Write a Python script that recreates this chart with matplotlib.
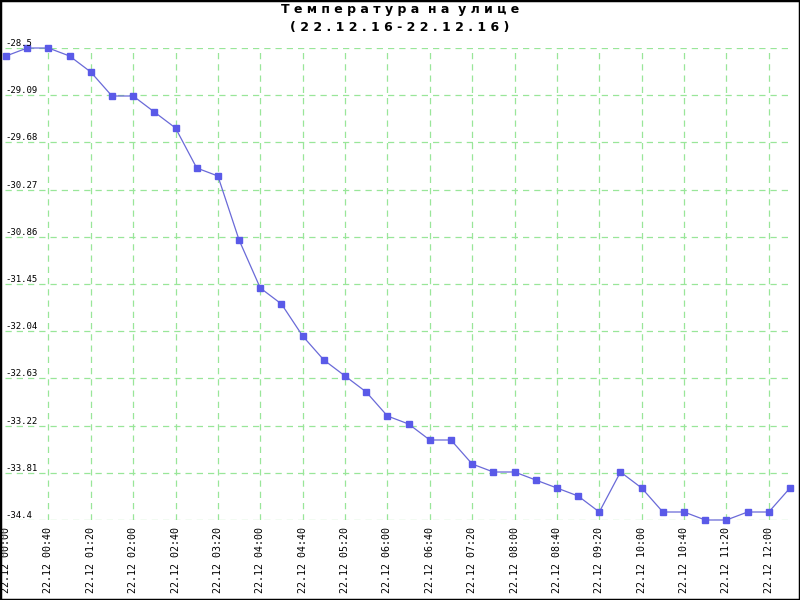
import matplotlib
matplotlib.use("Agg")
import matplotlib.pyplot as plt
from matplotlib.patches import Rectangle

# readings, every 20 minutes on 22.12
times = ["00:00", "00:20", "00:40", "01:00", "01:20", "01:40", "02:00", "02:20",
         "02:40", "03:00", "03:20", "03:40", "04:00", "04:20", "04:40", "05:00",
         "05:20", "05:40", "06:00", "06:20", "06:40", "07:00", "07:20", "07:40",
         "08:00", "08:20", "08:40", "09:00", "09:20", "09:40", "10:00", "10:20",
         "10:40", "11:00", "11:20", "11:40", "12:00", "12:20"]
temps = [-28.6, -28.5, -28.5, -28.6, -28.8, -29.1, -29.1, -29.3,
         -29.5, -30.0, -30.1, -30.9, -31.5, -31.7, -32.1, -32.4,
         -32.6, -32.8, -33.1, -33.2, -33.4, -33.4, -33.7, -33.8,
         -33.8, -33.9, -34.0, -34.1, -34.3, -33.8, -34.0, -34.3,
         -34.3, -34.4, -34.4, -34.3, -34.3, -34.0]
y_ticks = [-28.5, -29.09, -29.68, -30.27, -30.86, -31.45, -32.04,
           -32.63, -33.22, -33.81, -34.4]
day = "22.12"
title = "Т е м п е р а т у р а  н а  у л и ц е"
subtitle = "( 2 2 . 1 2 . 1 6 - 2 2 . 1 2 . 1 6 )"

W, H = 800, 600
fig = plt.figure(figsize=(8, 6), dpi=100)
fig.patch.set_facecolor("white")

# plot area in pixels: x 5..792, y 48..520
ax = fig.add_axes([5 / W, 1 - 520 / H, 787 / W, 472 / H])
for s in ax.spines.values():
    s.set_visible(False)

x = list(range(len(temps)))
scale = 784 / (len(temps) - 1)
ax.set_xlim(-1 / scale, len(temps) - 1 + 2 / scale)
ax.set_ylim(min(y_ticks), max(y_ticks))

grid_x = x[2::2]
for gx in grid_x:
    ax.axvline(gx, color="#99e699", lw=0.9, ls=(0, (5, 4)), zorder=1)
for gy in y_ticks:
    ax.axhline(gy, color="#99e699", lw=0.9, ls=(0, (5, 4)), zorder=1)

ax.plot(x, temps, color="#6a6ad8", lw=0.9, marker="s", markersize=5,
        markerfacecolor="#5a5ae8", markeredgecolor="#5a5ae8", zorder=3,
        clip_on=False)

ax.set_xticks([])
ax.set_yticks([])

for v in y_ticks:
    lbl = f"{v:g}"
    ax.annotate(lbl, (0, v), xycoords=("axes fraction", "data"),
                xytext=(0.5, 0), textcoords="offset points",
                ha="left", va="bottom", fontsize=6.5,
                family="DejaVu Sans Mono", color="black")

for i in x[::2]:
    ax.annotate(f"{day} {times[i]}", (i, 0), xycoords=("data", "axes fraction"),
                xytext=(0, -5), textcoords="offset points",
                ha="center", va="top", rotation=90, fontsize=7.2,
                family="DejaVu Sans Mono", color="black")

fig.text(0.5, 1 - 10 / H, title, ha="center", va="center", fontsize=9,
         fontweight="bold", family="DejaVu Sans")
fig.text(0.5, 1 - 27 / H, subtitle, ha="center", va="center", fontsize=9,
         fontweight="bold", family="DejaVu Sans")

fig.patches.append(Rectangle((0, 0), 1, 1, transform=fig.transFigure,
                             fill=False, edgecolor="black", lw=2.5))

fig.savefig("out.png", dpi=100)
